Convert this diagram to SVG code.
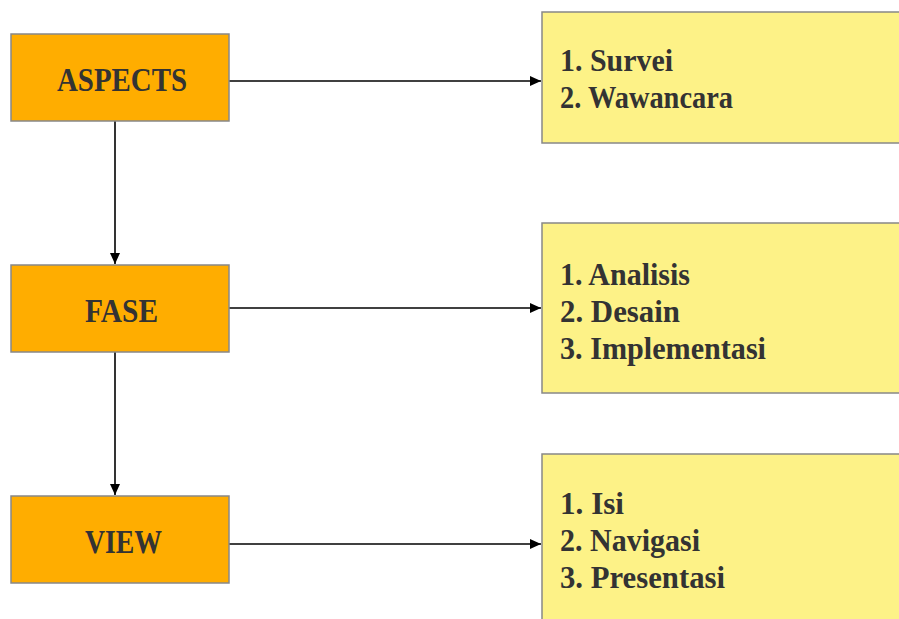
<svg xmlns="http://www.w3.org/2000/svg" width="899" height="619" viewBox="0 0 899 619">
<style>
.orange{fill:#FFAD00;stroke:#888888;stroke-width:1.5}
.yellow{fill:#FDF287;stroke:#888888;stroke-width:1.5}
text{font-family:"Liberation Serif","Times New Roman",serif;font-weight:bold;fill:#333333}
.n{font-size:34px}
.l{font-size:32px}
.c{stroke:#000;stroke-width:1.6;fill:none;marker-end:url(#ah)}
</style>
<defs>
<marker id="ah" markerWidth="12" markerHeight="10" refX="11" refY="5" orient="auto" markerUnits="userSpaceOnUse">
<path d="M0,0 L11,5 L0,10 Z" fill="#000"/>
</marker>
</defs>
<rect width="899" height="619" fill="#fff"/>
<g id="connectors">
<line class="c" x1="229" y1="81" x2="541" y2="81"/>
<line class="c" x1="229" y1="308" x2="541" y2="308"/>
<line class="c" x1="229" y1="544" x2="541" y2="544"/>
<line class="c" x1="115" y1="121" x2="115" y2="264"/>
<line class="c" x1="115" y1="352" x2="115" y2="495"/>
</g>
<g id="aspects">
<rect class="orange" x="11" y="34" width="218" height="87"/>
<text class="n" x="57" y="91" textLength="130" lengthAdjust="spacingAndGlyphs">ASPECTS</text>
</g>
<g id="fase">
<rect class="orange" x="11" y="265" width="218" height="87"/>
<text class="n" x="85" y="322" textLength="73" lengthAdjust="spacingAndGlyphs">FASE</text>
</g>
<g id="view">
<rect class="orange" x="11" y="496" width="218" height="87"/>
<text class="n" x="85" y="553" textLength="77" lengthAdjust="spacingAndGlyphs">VIEW</text>
</g>
<g id="list1">
<rect class="yellow" x="542" y="12" width="370" height="131"/>
<text class="l" x="560" y="71" textLength="113" lengthAdjust="spacingAndGlyphs">1. Survei</text>
<text class="l" x="560" y="108" textLength="173" lengthAdjust="spacingAndGlyphs">2. Wawancara</text>
</g>
<g id="list2">
<rect class="yellow" x="542" y="223" width="370" height="170"/>
<text class="l" x="560" y="285" textLength="130" lengthAdjust="spacingAndGlyphs">1. Analisis</text>
<text class="l" x="560" y="322" textLength="120" lengthAdjust="spacingAndGlyphs">2. Desain</text>
<text class="l" x="560" y="359" textLength="206" lengthAdjust="spacingAndGlyphs">3. Implementasi</text>
</g>
<g id="list3">
<rect class="yellow" x="542" y="454" width="370" height="180"/>
<text class="l" x="560" y="514" textLength="64" lengthAdjust="spacingAndGlyphs">1. Isi</text>
<text class="l" x="560" y="551" textLength="140" lengthAdjust="spacingAndGlyphs">2. Navigasi</text>
<text class="l" x="560" y="588" textLength="165" lengthAdjust="spacingAndGlyphs">3. Presentasi</text>
</g>
</svg>
